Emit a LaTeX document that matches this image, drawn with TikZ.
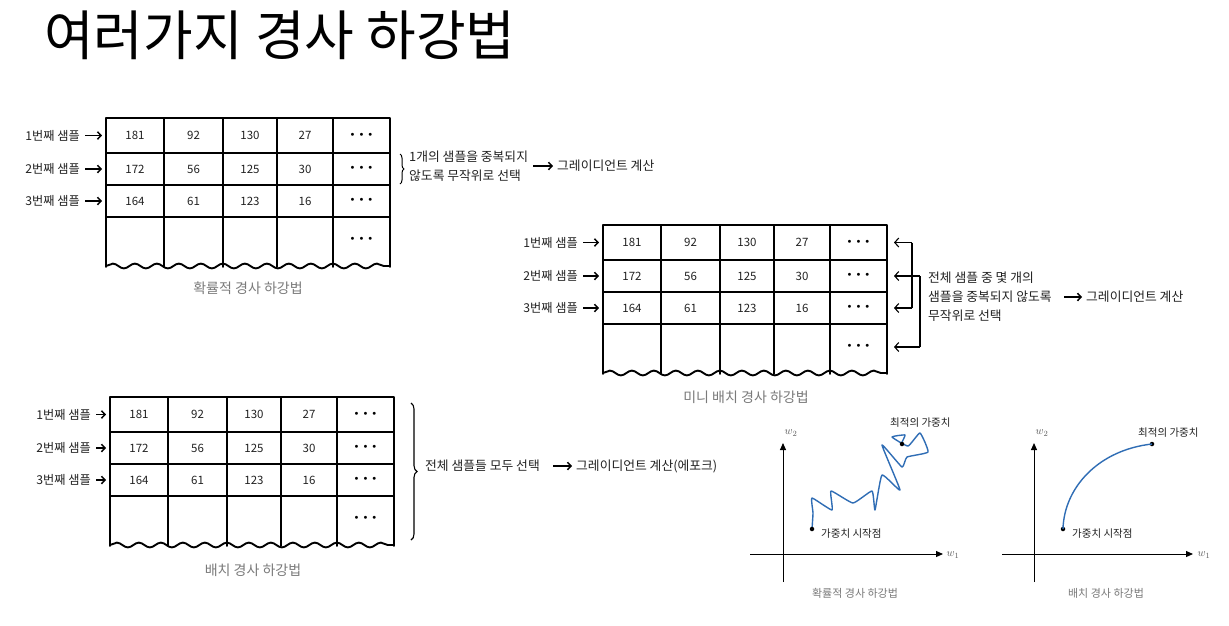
\documentclass[tikz,border=0pt]{standalone}
\usepackage{fontspec}
\setmainfont{Noto Sans CJK KR}
\newfontfamily\dvfont{DejaVu Sans}
\usetikzlibrary{arrows.meta,decorations.pathreplacing,decorations.pathmorphing}
\definecolor{ink}{HTML}{222222}
\definecolor{capgray}{HTML}{7A7A7A}
\definecolor{sgdblue}{HTML}{2F6DB5}
\tikzset{
  tabline/.style={line width=1.9pt, line cap=round, line join=round},
  wave/.style={tabline, decorate, decoration={snake, amplitude=2.4pt, segment length=22pt}},
  cell/.style={font=\fontsize{11.5}{11.5}\selectfont, text=ink, inner sep=0pt},
  rowlab/.style={anchor=east, inner sep=0pt, font=\fontsize{12.2}{12.2}\selectfont, text=ink},
  note/.style={anchor=west, inner sep=0pt, font=\fontsize{12.8}{12.8}\selectfont, text=ink},
  tabcap/.style={font=\fontsize{14}{14}\selectfont, text=capgray, inner sep=0pt},
  smallcap/.style={font=\fontsize{11}{11}\selectfont, text=capgray, inner sep=0pt},
  glab/.style={font=\fontsize{10.5}{10.5}\selectfont, text=ink, inner sep=0pt},
  arr/.style={line width=1.5pt, -{Straight Barb[length=3.5pt,width=7.5pt]}},
  backarr/.style={line width=1.1pt, -{Straight Barb[length=4pt,width=9pt]}},
  axis/.style={line width=1pt, -{Triangle[length=7pt,width=6pt]}},
  dotcell/.style={font=\dvfont\fontsize{10}{10}\selectfont, inner sep=0pt},
  pt/.style={circle, fill=black, inner sep=0pt, minimum size=4.5pt},
  wlab/.style={font=\fontsize{11}{11}\selectfont, text=ink!75, inner sep=0pt},
}
% #1 prefix, #2 x, #3 y
\newcommand\gdtable[3]{%
\begin{scope}[shift={(#2,#3)}]
  \draw[tabline] (0,149) -- (0,0) -- (284,0) -- (284,149);
  \foreach \yy in {35,67,99} \draw[tabline] (0,\yy) -- (284,\yy);
  \foreach \xx in {58,117,171,227} \draw[tabline] (\xx,0) -- (\xx,149);
  \draw[wave] (0,148) -- (284,148);
  \foreach \v/\cx [count=\i] in {181/29,92/87.5,130/144,27/199}
    \node[cell] (#1a\i) at (\cx,17.5) {\v};
  \foreach \v/\cx [count=\i] in {172/29,56/87.5,125/144,30/199}
    \node[cell] (#1b\i) at (\cx,51) {\v};
  \foreach \v/\cx [count=\i] in {164/29,61/87.5,123/144,16/199}
    \node[cell] (#1c\i) at (\cx,83) {\v};
  \foreach \yy [count=\i] in {17.5,51,83,122}
    \node[dotcell] (#1d\i) at (255.5,\yy) {•\hspace{3pt}•\hspace{3pt}•};
  \foreach \yy [count=\i] in {17.5,51,83,122} {
    \coordinate (#1w\i) at (0,\yy);
    \coordinate (#1e\i) at (284,\yy);
  }
\end{scope}}
% #1 prefix, #2 label east x offset
\newcommand\gdlabels[2]{%
  \foreach \r in {1,2,3}
    \node[rowlab] (#1l\r) at ([xshift=#2pt]#1w\r) {{\r}번째 샘플};
  \foreach \r in {1,2,3}
    \draw[arr, shorten <=5pt, shorten >=4pt] (#1l\r.east) -- (#1w\r);
}
\begin{document}
\begin{tikzpicture}[x=1pt,y=-1pt]
\useasboundingbox (0,0) rectangle (1229,625);
\fill[white] (0,0) rectangle (1229,625);

% title
\node[anchor=west, inner sep=0pt, font=\fontsize{54}{54}\selectfont] (title) at (44,35) {여러가지 경사 하강법};

% ---------- table 1: stochastic ----------
\gdtable{p}{106}{118}
\gdlabels{p}{-26}
\node[tabcap] (pcap) at (248,288) {확률적 경사 하강법};
\draw[line width=1pt, decorate, decoration={brace, amplitude=4pt}] (400,154) -- (400,184);
\node[note] (pnote1) at (409,157) {1개의 샘플을 중복되지};
\node[note] (pnote2) at (409,176) {않도록 무작위로 선택};
\node[note] (pgrad) at (557,166) {그레이디언트 계산};
\coordinate (parr) at (533,166);
\draw[arr, shorten >=4pt] (parr) -- (pgrad.west);

% ---------- table 2: mini-batch ----------
\gdtable{m}{603}{225}
\gdlabels{m}{-25}
\node[tabcap] (mcap) at (746,397) {미니 배치 경사 하강법};
\coordinate (mv1) at (912,242.5);
\coordinate (mv3) at (912,308);
\coordinate (mv2) at (920,276);
\coordinate (mv4) at (920,347);
\draw[line width=1.1pt] (mv1) -- (mv3);
\draw[line width=1.1pt] (mv2) -- (mv4);
\draw[backarr, shorten >=7pt] (mv1) -- (me1);
\draw[backarr, shorten >=7pt] (mv2) -- (me2);
\draw[backarr, shorten >=7pt] (mv3) -- (me3);
\draw[backarr, shorten >=7pt] (mv4) -- (me4);
\node[note] (mnote1) at (928,278) {전체 샘플 중 몇 개의};
\node[note] (mnote2) at (928,297) {샘플을 중복되지 않도록};
\node[note] (mnote3) at (928,316) {무작위로 선택};
\node[note] (mgrad) at (1086,297) {그레이디언트 계산};
\coordinate (marr) at (1064,297);
\draw[arr, shorten >=4pt] (marr) -- (mgrad.west);

% ---------- table 3: batch ----------
\gdtable{b}{110}{397}
\gdlabels{b}{-19}
\node[tabcap] (bcap) at (253,570) {배치 경사 하강법};
\draw[line width=1.1pt, decorate, decoration={brace, amplitude=6pt}] (411,403) -- (411,540);
\node[note] (bnote) at (425,466) {전체 샘플들 모두 선택};
\node[note] (bgrad) at (576,466) {그레이디언트 계산(에포크)};
\coordinate (barr) at (553,466);
\draw[arr, shorten >=4pt] (barr) -- (bgrad.west);

% ---------- graph 1: SGD path ----------
\coordinate (g1yb) at (783,582);
\coordinate (g1yt) at (783,443);
\coordinate (g1xl) at (750,554);
\coordinate (g1xr) at (943,554);
\draw[axis] (g1yb) -- (g1yt);
\draw[axis] (g1xl) -- (g1xr);
\node[wlab] (g1w2) at (791,433) {$w_2$};
\node[wlab] (g1w1) at (953,555) {$w_1$};
\draw[sgdblue, line width=1.4pt, line join=round] plot[smooth, tension=0.25] coordinates {
 (812,529) (813,513) (812,498) (832,510) (831,491) (853,503) (872,491) (875,510)
 (882,475) (900,490) (882,445) (902,467) (907,457) (928,452) (920,433) (908,446)
 (892,437) (905,435) (901,444)};
\node[pt] (g1s) at (812,529) {};
\node[pt] (g1e) at (902,444) {};
\node[glab, anchor=west] (g1sl) at (821,534) {가중치 시작점};
\node[glab, anchor=west] (g1el) at (890,423) {최적의 가중치};
\node[smallcap] (g1cap) at (855,593) {확률적 경사 하강법};

% ---------- graph 2: batch path ----------
\coordinate (g2yb) at (1034,582);
\coordinate (g2yt) at (1034,443);
\coordinate (g2xl) at (1002,554);
\coordinate (g2xr) at (1193,554);
\draw[axis] (g2yb) -- (g2yt);
\draw[axis] (g2xl) -- (g2xr);
\node[wlab] (g2w2) at (1042,433) {$w_2$};
\node[wlab] (g2w1) at (1204,555) {$w_1$};
\node[pt] (g2s) at (1063,529) {};
\node[pt] (g2e) at (1152,444) {};
\draw[sgdblue, line width=1.4pt] (g2s.center) .. controls (1064,488) and (1098,450) .. (g2e.center);
\node[glab, anchor=west] (g2sl) at (1072,534) {가중치 시작점};
\node[glab, anchor=west] (g2el) at (1138,433) {최적의 가중치};
\node[smallcap] (g2cap) at (1106,593) {배치 경사 하강법};
\end{tikzpicture}
\end{document}
